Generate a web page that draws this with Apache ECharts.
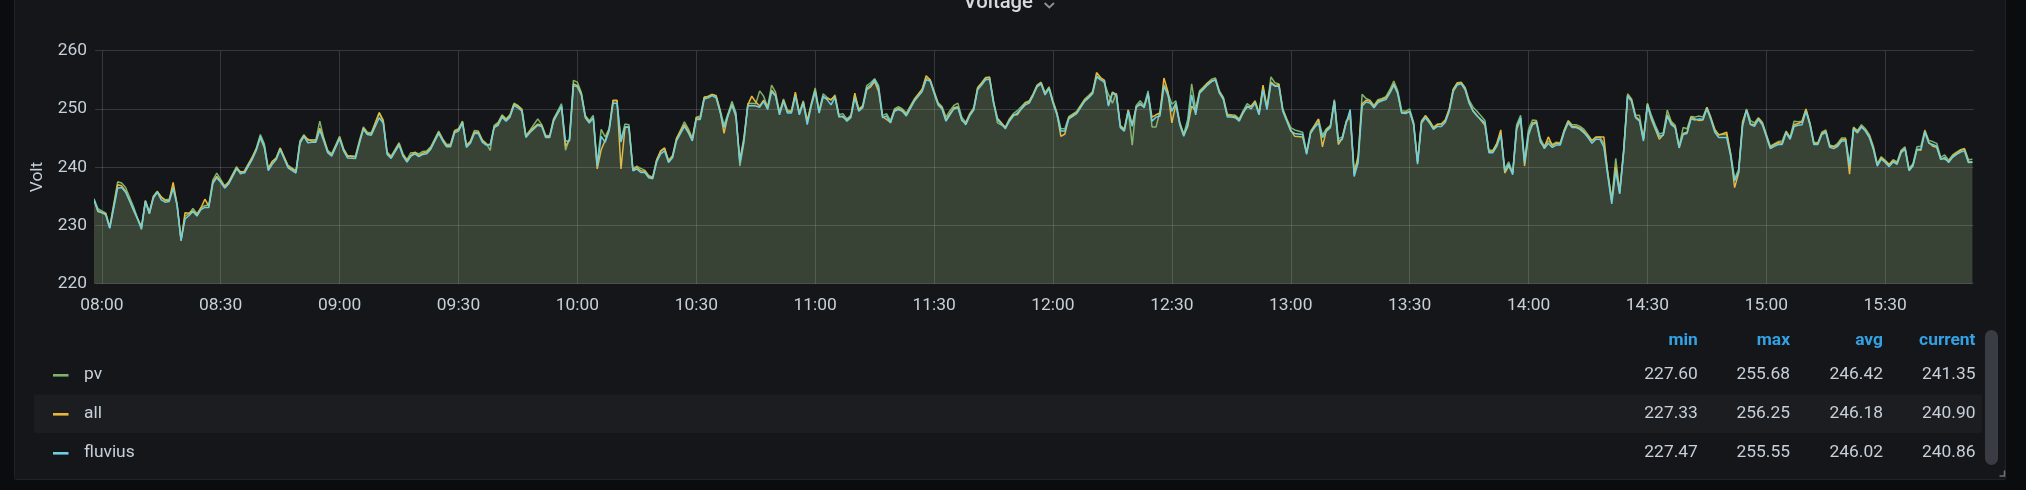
<!DOCTYPE html>
<html><head><meta charset="utf-8">
<script src="https://cdn.jsdelivr.net/npm/echarts@6/dist/echarts.min.js"></script>
<style>
html,body{margin:0;padding:0;background:#0b0c0e;overflow:hidden;width:2026px;height:490px;}
#panel{position:absolute;left:14px;top:-10px;width:1992px;height:490px;background:#141619;border:1px solid #202226;box-sizing:border-box;border-radius:2px;}
#c{position:absolute;left:0;top:0;width:2026px;height:490px;}
</style>
</head><body><div id="panel"></div><div id="c"></div><script>
// ---- data (minutes after 08:00) ----
const minutes = [
-2,-1,1,2,4,5,6,8,10,11,12,13,14,15,16,17,18,19,20,21,22,23,24,25,26,27,28,29,30,31,32,34,35,36,38,39,40,41,42,43,44,45,47,49,50,51,52,53,54,55,56,57,58,60,61,62,64,65,66,67,68,70,71,72,73,75,76,
77,78,79,80,81,82,83,85,86,87,88,89,90,91,92,93,94,95,96,97,98,99,100,101,102,103,104,105,106,107,108,110,111,112,113,114,116,117,118,119,120,121,122,123,124,125,126,127,128,129,130,131,132,133,134,135,136,137,138,139,140,141,142,143,144,145,147,148,149,150,151,152,153,154,155,
156,157,158,159,160,161,162,163,164,165,166,167,168,169,170,171,172,173,174,175,176,177,178,179,180,181,182,183,184,185,186,187,188,189,190,191,192,193,194,195,196,197,198,199,200,201,202,203,205,207,208,209,210,211,212,213,214,215,216,217,218,219,220,221,222,223,224,225,226,228,229,230,231,233,234,
235,236,237,238,239,240,241,242,243,244,246,248,249,250,251,252,253,254,255,256,257,258,259,260,261,262,263,264,265,266,267,268,269,270,271,272,273,274,275,276,277,278,279,280,281,282,283,284,285,286,287,288,289,290,291,292,293,294,295,296,297,298,299,300,301,303,304,305,306,307,308,309,310,311,312,313,314,
315,316,317,318,319,320,321,322,323,324,325,326,327,328,329,330,331,332,333,334,335,336,337,338,339,340,341,342,343,344,345,346,347,349,350,351,352,353,354,355,356,357,358,359,360,361,362,363,364,365,366,367,368,369,370,371,372,373,374,375,376,377,378,379,380,381,382,383,384,385,386,387,388,389,390,391,392,393,394,
395,396,397,398,399,400,401,402,403,404,405,406,407,408,410,411,412,413,414,415,416,417,418,419,421,422,423,424,425,426,427,428,429,430,431,432,433,434,435,436,437,438,439,440,441,442,443,444,445,446,447,448,449,450,451,452,453,454,455,456,457,458,459,460,461,462,463,464,465,466,467,468,469,470,471,472
];

const pvValues = [
234.6,232.9,232.1,229.8,237.5,237.3,236.5,233.2,229.3,234.3,232.4,235.0,235.9,234.8,234.4,234.5,236.6,233.7,227.6,231.6,232.0,232.9,232.0,233.0,233.4,233.5,237.8,239.0,237.9,236.8,237.5,240.1,238.8,239.4,241.8,243.3,245.6,244.0,239.8,240.9,241.6,243.3,240.3,239.4,244.5,245.6,244.6,244.7,244.7,247.9,245.0,242.9,242.3,245.3,243.2,242.0,241.9,244.6,246.9,246.0,245.9,249.4,248.1,242.6,241.9,244.2,242.3,
241.3,242.5,242.5,242.3,242.7,242.8,243.5,246.2,244.9,243.9,244.0,246.3,246.6,247.9,243.8,244.5,246.3,246.2,244.7,244.1,242.9,247.2,247.7,249.0,248.3,249.0,251.0,250.6,250.0,245.5,246.3,248.3,247.3,245.5,245.4,248.3,250.9,242.9,244.9,254.9,254.6,252.8,248.9,248.0,248.9,240.6,246.5,245.2,246.6,251.4,251.4,244.7,247.4,247.3,239.8,240.2,239.8,239.5,238.6,238.3,241.3,242.7,243.2,241.2,242.0,244.9,247.8,246.6,245.0,248.6,248.8,252.0,252.2,252.5,252.3,
249.9,247.2,249.2,251.3,249.4,240.2,244.2,250.9,251.0,250.9,253.1,252.2,250.3,254.1,252.9,249.4,251.7,249.8,249.7,252.6,249.4,251.4,247.8,250.9,253.6,249.7,252.6,252.0,251.5,252.4,249.0,249.2,248.3,248.9,252.3,250.0,250.6,254.0,254.5,255.2,254.0,248.9,249.2,248.0,250.0,250.4,250.0,249.3,251.7,253.4,255.3,255.0,253.1,251.1,250.4,248.6,249.7,250.6,251.0,248.6,247.7,249.2,250.2,253.7,254.5,255.4,255.5,251.4,247.6,246.9,248.3,249.2,249.7,251.1,251.4,
252.6,254.1,254.6,252.8,253.8,251.4,249.4,246.6,246.6,248.7,249.6,251.7,252.3,253.0,255.68,255.3,254.4,252.5,251.0,252.7,247.2,246.6,249.9,243.8,250.6,251.4,250.6,253.1,246.9,246.9,249.6,254.2,252.8,250.8,251.4,247.7,245.7,248.2,254.3,250.0,253.1,253.8,254.5,255.1,255.3,253.1,252.0,249.1,249.0,248.9,248.3,249.7,250.9,250.4,251.4,249.4,253.6,250.3,255.5,254.5,254.3,250.0,248.3,246.8,246.4,246.0,242.6,246.2,247.2,248.3,245.5,246.6,247.2,251.6,244.9,245.2,247.9,
248.5,239.5,241.2,252.5,251.8,251.5,250.6,251.6,251.8,252.1,253.3,254.8,253.1,249.7,249.6,250.0,247.7,240.9,248.0,248.9,248.0,246.9,247.4,247.4,248.1,250.0,253.3,254.5,254.6,253.7,251.5,250.3,249.6,248.0,242.9,242.9,244.0,245.9,239.7,240.9,239.1,247.3,248.9,241.2,246.5,248.1,248.0,244.9,243.6,244.5,243.9,244.3,244.2,246.4,248.0,247.3,247.3,247.0,246.5,245.6,244.6,245.2,245.2,244.0,239.1,234.5,241.5,235.9,242.9,252.6,251.7,248.9,248.9,244.9,251.0,248.9,247.2,245.7,245.9,
249.8,247.9,247.2,243.6,246.8,246.6,248.7,248.6,248.8,248.6,250.3,248.6,246.4,245.6,245.6,242.4,238.0,239.6,247.3,250.0,248.0,247.6,248.5,247.7,243.6,244.0,244.4,244.5,246.2,245.1,247.9,247.8,247.9,249.9,247.6,244.3,244.2,246.0,246.4,243.8,243.6,244.1,245.0,245.0,240.6,246.9,246.3,247.3,246.6,245.6,243.6,240.6,241.8,241.2,240.5,241.3,240.9,242.9,243.5,239.8,240.6,243.5,243.6,246.4,244.6,244.4,244.1,241.7,242.1,241.2,242.1,242.6,243.0,243.2,241.3,241.35
];

const allValues = [
234.5,232.4,232.0,229.6,237.0,236.8,235.9,232.6,229.8,234.2,232.1,234.9,235.8,234.9,234.3,234.3,237.4,233.5,227.33,232.2,232.1,232.5,231.8,233.0,234.5,233.3,237.4,238.4,237.6,236.6,237.4,239.9,239.2,239.2,241.7,243.2,245.0,243.4,239.7,241.0,241.5,243.3,240.1,239.3,244.3,245.4,244.8,244.5,244.5,246.7,244.8,242.7,242.1,245.1,243.0,241.9,241.8,244.3,246.7,245.8,245.7,249.3,247.9,242.4,241.7,244.0,242.1,
241.1,242.0,242.6,242.0,242.4,242.6,243.3,246.0,244.7,243.7,243.8,246.1,246.5,247.8,243.7,244.3,246.0,246.0,244.6,243.9,243.9,246.9,247.5,248.8,248.1,248.9,250.8,250.5,249.8,245.3,246.2,247.4,247.2,245.3,245.3,248.2,250.3,243.6,244.7,254.3,254.0,252.6,248.7,247.8,248.4,239.7,243.0,244.6,246.5,251.5,251.5,239.7,246.8,246.9,239.6,240.0,239.4,239.3,238.4,238.2,241.2,242.8,243.3,241.0,241.8,244.9,247.3,246.2,244.8,248.5,248.4,252.0,252.1,252.5,252.2,
249.7,245.8,249.0,250.8,248.6,241.3,245.0,250.7,252.2,251.2,250.5,251.5,250.2,253.2,252.4,249.3,251.5,249.5,249.5,252.9,249.2,251.2,248.0,250.7,253.2,249.5,252.0,251.8,251.6,252.2,248.8,248.6,248.1,248.7,252.7,249.8,250.5,253.3,253.8,254.7,253.0,248.7,248.2,247.7,249.8,250.1,249.8,249.0,251.5,253.4,255.7,255.0,252.9,250.9,250.2,248.1,249.2,250.2,250.4,248.0,247.6,249.0,250.0,253.6,254.4,255.3,255.4,251.2,248.4,246.8,248.1,249.0,249.0,251.0,251.2,
252.5,254.0,254.5,252.6,253.6,251.2,249.2,245.3,245.7,248.5,249.4,251.5,252.1,252.8,256.25,255.4,254.9,250.7,252.9,252.5,247.0,246.4,249.8,247.3,250.4,250.7,250.4,252.5,248.6,249.0,249.3,255.3,253.0,247.6,250.8,247.5,245.5,247.0,250.5,249.6,252.9,253.6,254.4,254.8,255.0,252.9,251.8,248.9,248.8,248.7,248.1,249.5,250.3,250.5,251.3,249.2,254.1,250.2,254.6,254.0,254.2,249.8,248.1,246.4,245.3,245.2,242.4,245.9,247.1,248.2,243.5,246.4,247.0,251.4,243.9,245.0,247.8,
249.2,238.8,242.0,250.9,251.5,251.3,250.4,251.4,251.6,251.9,252.9,254.3,252.6,249.3,249.4,249.5,247.5,240.8,247.8,248.8,247.9,246.7,247.3,247.4,248.1,250.0,253.4,254.4,254.5,253.5,251.2,249.7,248.9,247.2,242.7,242.8,244.1,246.4,239.0,240.2,239.0,246.5,248.2,240.2,245.5,247.6,247.8,244.3,243.5,245.2,243.7,244.1,244.0,246.3,247.9,247.0,247.0,246.7,246.1,245.3,244.5,245.1,245.2,245.2,238.9,234.2,240.1,235.6,242.9,252.3,251.5,248.7,248.1,244.8,250.8,248.2,246.5,244.8,245.6,
249.0,247.6,246.9,243.3,245.8,246.0,248.6,248.3,248.0,248.1,250.3,248.4,246.5,245.5,246.0,242.2,236.5,239.0,247.8,249.8,247.4,247.3,248.4,247.5,243.4,243.9,244.2,244.1,246.1,245.0,247.3,247.5,247.8,250.0,247.5,244.0,244.1,245.8,246.2,243.6,243.5,243.8,244.7,244.8,238.8,246.7,246.1,247.0,246.3,245.3,243.3,240.4,241.6,241.0,240.4,241.1,240.7,242.7,243.2,239.6,240.4,243.0,242.9,246.2,244.3,243.6,243.4,241.5,241.4,241.0,241.9,242.4,242.9,243.1,240.9,240.90
];

const fluviusValues = [
234.4,232.6,231.8,229.5,236.4,236.5,235.7,232.8,229.5,234.1,232.0,234.7,235.7,234.4,234.0,234.1,236.4,233.4,227.47,231.1,231.7,232.4,231.6,232.7,233.1,233.1,237.2,238.2,237.4,236.4,237.1,239.7,239.0,239.0,241.4,242.9,245.3,243.6,239.4,240.5,241.3,243.0,239.9,239.0,244.1,245.3,244.2,244.3,244.3,246.4,244.5,242.5,241.9,244.9,242.8,241.6,241.5,244.1,246.5,245.6,245.5,248.5,247.6,242.2,241.5,243.8,241.9,
240.9,241.9,242.3,241.8,242.2,242.3,243.1,245.8,244.5,243.5,243.5,245.9,246.2,247.6,243.4,244.1,245.8,245.8,244.3,243.8,243.8,246.8,247.2,248.6,247.9,248.6,250.6,250.2,249.6,245.1,245.9,247.2,247.0,245.1,245.1,247.9,250.5,244.5,244.5,254.0,253.8,252.4,248.5,247.6,248.5,240.2,245.3,244.3,246.2,251.0,251.0,244.3,246.9,246.9,239.4,239.7,239.1,239.1,238.2,238.0,240.9,242.3,242.8,240.8,241.6,244.5,247.0,245.9,244.5,248.2,248.2,251.7,251.9,252.3,251.9,
249.5,246.8,248.8,250.7,249.0,240.8,244.5,250.5,250.6,250.5,250.3,251.3,249.9,253.0,252.2,249.0,251.3,249.3,249.3,252.2,249.0,251.0,247.3,250.5,253.0,249.3,252.2,251.6,250.7,252.0,248.6,248.8,247.9,248.5,251.9,249.6,250.2,253.6,254.1,255.0,253.6,248.5,248.8,247.6,249.6,249.9,249.6,248.8,251.3,253.0,255.0,254.8,252.7,250.7,250.0,247.9,249.0,250.0,250.2,248.2,247.3,248.8,249.8,253.3,254.1,255.0,255.1,251.0,248.2,246.6,247.9,248.8,249.3,250.7,251.0,
252.3,253.8,254.3,252.4,253.5,251.0,249.0,246.2,246.2,248.3,249.2,251.3,251.9,252.6,255.55,255.0,254.7,250.5,252.7,252.3,246.8,246.2,249.6,247.0,250.2,251.0,250.2,252.7,247.9,248.6,248.8,253.9,252.4,249.6,251.0,247.3,245.3,247.3,252.4,249.0,252.7,253.4,254.1,254.7,255.0,252.7,251.6,248.6,248.6,248.5,247.9,249.3,250.5,250.0,251.0,249.0,253.3,249.9,254.4,253.9,253.9,249.6,247.9,246.2,245.8,245.6,242.2,245.8,246.8,247.6,245.1,246.2,246.8,251.3,244.5,244.8,247.6,
249.9,238.4,240.8,250.5,251.2,251.0,250.2,251.1,251.4,251.6,252.7,254.1,252.7,249.3,249.2,249.6,247.3,240.5,247.6,248.5,247.6,246.5,247.0,247.0,247.7,249.6,253.0,254.1,254.3,253.3,251.0,249.6,248.8,247.6,242.5,242.5,243.6,245.6,239.4,240.5,238.7,246.8,248.5,240.8,245.9,247.3,247.6,244.5,243.2,244.1,243.4,243.8,243.8,246.0,247.6,246.8,246.8,246.5,245.9,245.1,244.1,244.8,244.8,243.5,238.5,233.7,239.4,235.4,242.5,252.2,251.3,248.5,247.9,244.5,250.6,248.5,246.8,245.3,245.5,
248.8,247.3,246.8,243.4,245.6,245.8,248.3,248.1,248.3,248.2,250.0,248.2,246.0,245.1,245.1,241.9,237.7,239.1,247.0,249.8,247.3,247.0,248.2,247.3,243.2,243.6,243.9,243.9,245.9,244.8,247.0,247.2,247.3,249.6,247.3,243.9,243.9,245.6,246.0,243.4,243.2,243.6,244.5,244.5,240.2,246.5,245.9,246.9,246.2,245.1,243.1,240.2,241.4,240.8,240.1,240.9,240.5,242.5,243.1,239.4,240.2,243.1,243.1,246.0,244.1,243.9,243.6,241.3,241.7,240.8,241.7,242.2,242.6,242.8,240.8,240.86
];

const seriesNames = ['pv', 'all', 'fluvius'];
const seriesColors = ['#7eb26d', '#eab839', '#6ed0e0'];
const statHeaders = ['min', 'max', 'avg', 'current'];
const pvStats = [227.60, 255.68, 246.42, 241.35];
const allStats = [227.33, 256.25, 246.18, 240.90];
const fluviusStats = [227.47, 255.55, 246.02, 240.86];
const yTicks = [220, 230, 240, 250, 260];
// x tick positions (minutes after 08:00) and their labels
const xTickMinutes = [0, 30, 60, 90, 120, 150, 180, 210, 240, 270, 300, 330, 360, 390, 420, 450];
const xTickLabels = ['08:00', '08:30', '09:00', '09:30', '10:00', '10:30', '11:00', '11:30', '12:00', '12:30', '13:00', '13:30', '14:00', '14:30', '15:00', '15:30'];
const panelTitle = 'Voltage';
const yAxisName = 'Volt';

// ---- chart ----
const FONT = 'Roboto, "Helvetica Neue", Arial, sans-serif';
const TXT = '#c7d0d9';
const seriesValues = [pvValues, allValues, fluviusValues];
const stats = [pvStats, allStats, fluviusStats];

const chart = echarts.init(document.getElementById('c'), null, { renderer: 'canvas' });

const graphics = [];
graphics.push({ type: 'rect', shape: { x: 34, y: 394.3, width: 1948, height: 38.7 }, style: { fill: '#1b1d21' }, z: 0 });
graphics.push({ type: 'text', x: 998.3, y: 2.8, style: { text: panelTitle, fill: '#d8d9da', font: '500 20.3px ' + FONT, align: 'center', verticalAlign: 'middle', textAlign: 'center', textVerticalAlign: 'middle' } });
graphics.push({ type: 'polyline', shape: { points: [[1044.6, 3], [1049.3, 7.4], [1054, 3]] }, style: { stroke: '#8e9196', lineWidth: 1.8, fill: null } });
graphics.push({ type: 'text', x: 38, y: 177, rotation: Math.PI / 2, style: { text: yAxisName, fill: TXT, font: '17.4px ' + FONT, align: 'center', verticalAlign: 'middle', textAlign: 'center', textVerticalAlign: 'middle' } });
const colRight = [1697.8, 1790, 1883, 1975.5];
statHeaders.forEach((h, j) => {
  graphics.push({ type: 'text', x: colRight[j], y: 340.5, style: { text: h, fill: '#33a2e5', font: 'bold 17.4px ' + FONT, align: 'right', verticalAlign: 'middle', textAlign: 'right', textVerticalAlign: 'middle' } });
});
const rowMid = [374.8, 413.8, 452.8];
seriesNames.forEach((n, i) => {
  graphics.push({ type: 'rect', shape: { x: 53, y: rowMid[i] - 0.8, width: 15.5, height: 2.6 }, style: { fill: seriesColors[i] } });
  graphics.push({ type: 'text', x: 84, y: rowMid[i], style: { text: n, fill: TXT, font: '17.4px ' + FONT, align: 'left', verticalAlign: 'middle', textAlign: 'left', textVerticalAlign: 'middle' } });
  stats[i].forEach((v, j) => {
    graphics.push({ type: 'text', x: colRight[j], y: rowMid[i], style: { text: v.toFixed(2), fill: TXT, font: '17.4px ' + FONT, align: 'right', verticalAlign: 'middle', textAlign: 'right', textVerticalAlign: 'middle' } });
  });
});
graphics.push({ type: 'rect', shape: { x: 1985, y: 330, width: 13, height: 135, r: 6.5 }, style: { fill: '#393c43' } });
graphics.push({ type: 'polyline', shape: { points: [[2004.5, 470.5], [2004.5, 476], [1999.5, 476]] }, style: { stroke: '#6c6f75', lineWidth: 1.6, fill: null } });

const option = {
  backgroundColor: 'transparent',
  animation: false,
  grid: { left: 95, right: 52.4, top: 50.7, bottom: 206.3, containLabel: false },
  xAxis: {
    type: 'value',
    min: -1.72,
    max: 472.3,
    axisLine: { show: false },
    axisTick: { show: false, customValues: xTickMinutes },
    splitLine: { show: true, lineStyle: { color: 'rgba(255,255,255,0.15)', width: 1 } },
    axisLabel: {
      customValues: xTickMinutes,
      color: TXT, fontFamily: FONT, fontSize: 17.4, margin: 13, hideOverlap: false,
      formatter: function (v) {
        const k = xTickMinutes.indexOf(Math.round(v));
        return k >= 0 ? xTickLabels[k] : '';
      }
    }
  },
  yAxis: {
    type: 'value', min: yTicks[0], max: yTicks[yTicks.length - 1], interval: 10,
    axisLine: { show: false }, axisTick: { show: false },
    splitLine: { show: true, lineStyle: { color: 'rgba(255,255,255,0.15)', width: 1 } },
    axisLabel: { color: TXT, fontFamily: FONT, fontSize: 17.4, margin: 8 }
  },
  series: seriesNames.map((n, i) => ({
    name: n,
    type: 'line',
    data: minutes.map((m, j) => [m, seriesValues[i][j]]),
    showSymbol: false,
    symbol: 'none',
    clip: true,
    lineStyle: { color: seriesColors[i], width: 1.5 },
    itemStyle: { color: seriesColors[i] },
    areaStyle: { color: seriesColors[i], opacity: 0.1, origin: 'start' },
    z: 2 + i
  })),
  graphic: { elements: graphics }
};
chart.setOption(option);
</script></body></html>
